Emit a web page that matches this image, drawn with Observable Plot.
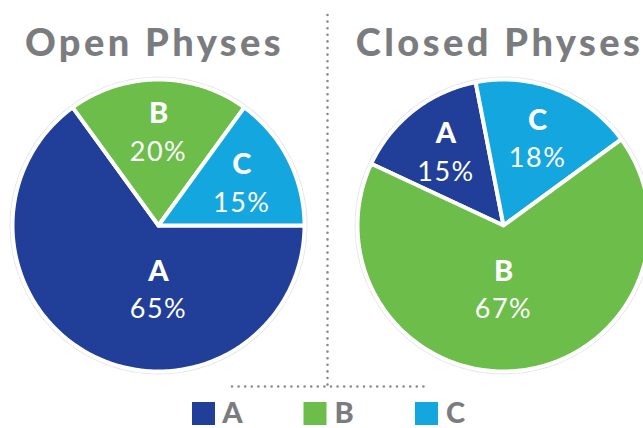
<!DOCTYPE html>
<html>
<head>
<meta charset="utf-8">
<script src="https://cdn.jsdelivr.net/npm/d3@7"></script>
<script src="https://cdn.jsdelivr.net/npm/@observablehq/plot@0.6"></script>
<style>
  html, body { margin: 0; padding: 0; background: #fff; }
  #chart svg { display: block; }
</style>
</head>
<body>
<div id="chart"></div>
<script>
// ---- data ----
const groups = ["Open Physes", "Closed Physes"];
const categories = ["A", "B", "C"];
const openValues = [65, 20, 15];      // A, B, C
const closedValues = [15, 67, 18];    // A, B, C
const colors = ["#213f98", "#6cbd4a", "#14a7df"];

// ---- layout (style) ----
const W = 643, H = 428;
const R = 146;
const pies = [
  {group: groups[0], values: openValues, cx: 158, cy: 225, start: 90, order: ["A", "B", "C"]},
  {group: groups[1], values: closedValues, cx: 503, cy: 225, start: -65, order: ["A", "C", "B"]}
];
const rad = d => d * Math.PI / 180;

const slicePts = [];
const labels = [];
const halos = [];
for (const p of pies) {
  halos.push({x: p.cx, y: p.cy});
  let a = p.start;
  for (const cat of p.order) {
    const v = p.values[categories.indexOf(cat)];
    const span = v / 100 * 360;
    const id = p.group + "-" + cat;
    slicePts.push({id, cat, x: p.cx, y: p.cy});
    const n = Math.max(2, Math.ceil(span));
    for (let k = 0; k <= n; k++) {
      const t = rad(a + span * k / n);
      slicePts.push({id, cat, x: p.cx + R * Math.sin(t), y: p.cy - R * Math.cos(t)});
    }
    slicePts.push({id, cat, x: p.cx, y: p.cy});
    let mid = a + span / 2, dist = 0.64 * R;
    if (v > 50) { mid = 180; dist = 0.44 * R; }
    labels.push({cat, pct: v + "%", x: p.cx + dist * Math.sin(rad(mid)), y: p.cy - dist * Math.cos(rad(mid))});
    a += span;
  }
}
const titles = pies.map(p => ({text: p.group, x: p.cx - 4, y: 43}));
const legend = categories.map((c, i) => ({cat: c, x: 192 + i * 111.5}));

const chart = Plot.plot({
  width: W,
  height: H,
  margin: 0,
  x: {domain: [0, W], range: [0, W], axis: null},
  y: {domain: [0, H], range: [0, H], axis: null},
  color: {domain: categories, range: colors},
  style: {fontFamily: "Lato, 'Open Sans', sans-serif", background: "#fff"},
  marks: [
    // dotted separators
    Plot.ruleX([327], {y1: 15, y2: 386, stroke: "#8a8a8a", strokeWidth: 2.6, strokeDasharray: "0 6.6", strokeLinecap: "round"}),
    Plot.ruleY([386], {x1: 232, x2: 426, stroke: "#8a8a8a", strokeWidth: 2.6, strokeDasharray: "0 6.6", strokeLinecap: "round"}),
    // faint halo
    Plot.dot(halos, {x: "x", y: "y", r: R + 2, fill: "white", stroke: "#e6e6e6", strokeWidth: 2}),
    // slices
    Plot.line(slicePts, {x: "x", y: "y", z: "id", fill: "cat", stroke: "white", strokeWidth: 4, strokeLinejoin: "round", curve: "linear"}),
    // slice labels
    Plot.text(labels, {x: "x", y: d => d.y - 18, text: "cat", fill: "white", fontSize: 29, fontWeight: 900}),
    Plot.text(labels, {x: "x", y: d => d.y + 20, text: "pct", fill: "white", fontSize: 27, fontWeight: 400}),
    // titles
    Plot.text(titles, {x: "x", y: "y", text: "text", fill: "#7b7c7f", fontSize: 38, fontWeight: 900}),
    // legend
    Plot.rect(legend, {x1: "x", x2: d => d.x + 23, y1: 402, y2: 425, fill: "cat"}),
    Plot.text(legend, {x: d => d.x + 40, y: 413, text: "cat", fill: "#7b7c7f", fontSize: 29, fontWeight: 900, textAnchor: "middle"})
  ]
});
// letter spacing (style only)
d3.select(chart).selectAll("text").each(function () {
  const t = this.textContent;
  if (groups.includes(t)) this.setAttribute("letter-spacing", "3.4");
  else if (t.endsWith("%")) this.setAttribute("letter-spacing", "1.5");
});
document.getElementById("chart").append(chart);
</script>
</body>
</html>
